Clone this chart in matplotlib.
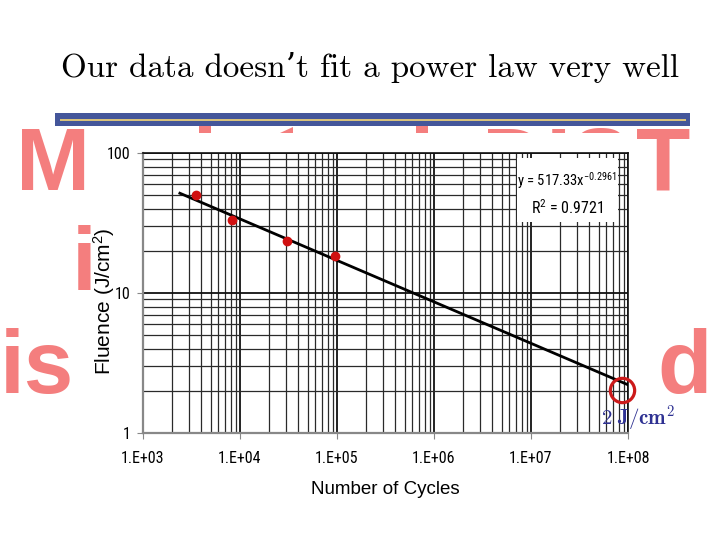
import matplotlib
matplotlib.use("Agg")
import matplotlib.pyplot as plt
from matplotlib.patches import Rectangle, Polygon
from matplotlib.transforms import Bbox
from matplotlib.ticker import FixedLocator, FixedFormatter, NullFormatter, LogLocator

# ---- data ----
cycles = [3500, 8300, 30500, 95000]
fluence = [50.0, 33.0, 23.5, 18.4]
trend_x = [2400, 1.0e8]
trend_y = [51.6, 2.21]
x_ticks = [1e3, 1e4, 1e5, 1e6, 1e7, 1e8]
x_tick_labels = ["1.E+03", "1.E+04", "1.E+05", "1.E+06", "1.E+07", "1.E+08"]
y_ticks = [1, 10, 100]
y_tick_labels = ["1", "10", "100"]
circle_x = [8.7e7]
circle_y = [2.03]

title = "Our data doesn\u2019t fit a power law very well"
eq_text = "y = 517.33x$^{-0.2961}$"
r2_text = "R$^{2}$ = 0.9721"

plt.rcParams["mathtext.default"] = "regular"

W, H = 720, 540
fig = plt.figure(figsize=(7.2, 5.4), dpi=100)
fig.patch.set_facecolor("white")

def fx(px):
    return px / W

def fy(py):
    return 1 - py / H

# ---- slide background, in pixel coordinates ----
bg = fig.add_axes([0, 0, 1, 1])
bg.set_xlim(0, W)
bg.set_ylim(H, 0)
bg.axis("off")
bg.set_zorder(0)

pink = "#F47E7E"
big = dict(family="Liberation Sans", weight="bold", fontsize=64, color=pink, zorder=1)
bg.text(16, 190, "M", ha="left", va="baseline", **big)
# letters mostly hidden behind the chart: only their tops show above it
t_dis = bg.text(630, 190, "DIS", ha="right", va="baseline", clip_on=True, **big)
t_dis.set_clip_path(None)
t_dis.set_clip_box(Bbox.from_extents(400, H - 133, 720, H))
bg.text(636, 190, "T", ha="left", va="baseline", **big)
bg.text(72, 290, "i", ha="left", va="baseline", **big)
bg.text(0, 393, "is", ha="left", va="baseline", **big)
bg.text(657, 393, "d", ha="left", va="baseline", **big)
for x0, x1 in [(199, 211), (416, 428)]:
    bg.add_patch(Rectangle((x0, 124), x1 - x0, 9, facecolor=pink, edgecolor="none", zorder=1))
bg.add_patch(Polygon([(280, 133), (293, 133), (293, 127)], closed=True,
                     facecolor=pink, edgecolor="none", zorder=1))

# title bar
bg.add_patch(Rectangle((55, 113), 690 - 55, 13, facecolor="#44569A", edgecolor="none", zorder=3))
bg.add_patch(Rectangle((60, 118.5), 686 - 60, 2, facecolor="#D9C27A", edgecolor="none", zorder=4))

bg.text(370, 77, title, ha="center", va="baseline",
        family=["cmr10", "DejaVu Serif"], fontsize=23.8, color="black", zorder=5)

# ---- chart ----
ax = fig.add_axes([fx(143), fy(433), fx(628) - fx(143), fy(153) - fy(433)])
ax.set_zorder(2)
ax.set_xscale("log")
ax.set_yscale("log")
ax.set_xlim(1e3, 1e8)
ax.set_ylim(1, 100)

ax.xaxis.set_major_locator(FixedLocator(x_ticks))
ax.xaxis.set_major_formatter(FixedFormatter(x_tick_labels))
ax.yaxis.set_major_locator(FixedLocator(y_ticks))
ax.yaxis.set_major_formatter(FixedFormatter(y_tick_labels))
ax.xaxis.set_minor_locator(LogLocator(base=10, subs=range(2, 10), numticks=20))
ax.yaxis.set_minor_locator(LogLocator(base=10, subs=range(2, 10), numticks=20))
ax.xaxis.set_minor_formatter(NullFormatter())
ax.yaxis.set_minor_formatter(NullFormatter())

ax.grid(which="major", color="#111111", lw=1.3)
ax.grid(which="minor", color="#2a2a2a", lw=0.9)
ax.set_axisbelow(True)

tick_font = ["Liberation Sans Narrow", "Roboto Condensed", "DejaVu Sans Condensed",
             "Liberation Sans"]
for lab in ax.get_xticklabels() + ax.get_yticklabels():
    lab.set_family(tick_font)
    lab.set_fontsize(11.5)
ax.tick_params(which="major", axis="x", length=4, color="#888888", pad=9)
ax.tick_params(which="major", axis="y", length=4, color="#888888", pad=5)
ax.tick_params(which="minor", length=0)

for s in ["left", "bottom"]:
    ax.spines[s].set_color("#888888")
    ax.spines[s].set_linewidth(1.6)
for s in ["top", "right"]:
    ax.spines[s].set_color("#111111")
    ax.spines[s].set_linewidth(1.2)

ax.set_xlabel("Number of Cycles", family="Liberation Sans", fontsize=13.5)
ax.set_ylabel("Fluence (J/cm$^{2}$)", family="Liberation Sans", fontsize=15)
ax.xaxis.set_label_coords(0.5, -0.172)
ax.yaxis.set_label_coords(-0.053, 0.471)

ax.plot(trend_x, trend_y, color="black", lw=2.0, zorder=3)
ax.plot(cycles, fluence, "o", color="#D01010", ms=6, zorder=4)

# equation box
ax.add_patch(Rectangle((0.771, 0.754), 0.208, 0.228, transform=ax.transAxes,
                       facecolor="white", edgecolor="none", zorder=2.5))
ax.text(0.874, 0.9, eq_text, transform=ax.transAxes, ha="center", va="center",
        family=tick_font, fontsize=10.5, zorder=3)
ax.text(0.874, 0.804, r2_text, transform=ax.transAxes, ha="center", va="center",
        family=tick_font, fontsize=11.5, zorder=3)

# annotation circle
ax.plot(circle_x, circle_y, "o", mfc="none", mec="#CC1A1A", mew=2.3, ms=17.5,
        clip_on=False, zorder=5)

plt.rcParams["mathtext.fontset"] = "cm"
fig.text(fx(638), fy(425), r"$\mathbf{2\ J/cm^{2}}$", ha="center", va="baseline",
         fontsize=15, color="#2E3192", zorder=10)

fig.savefig("out.png", dpi=100)
